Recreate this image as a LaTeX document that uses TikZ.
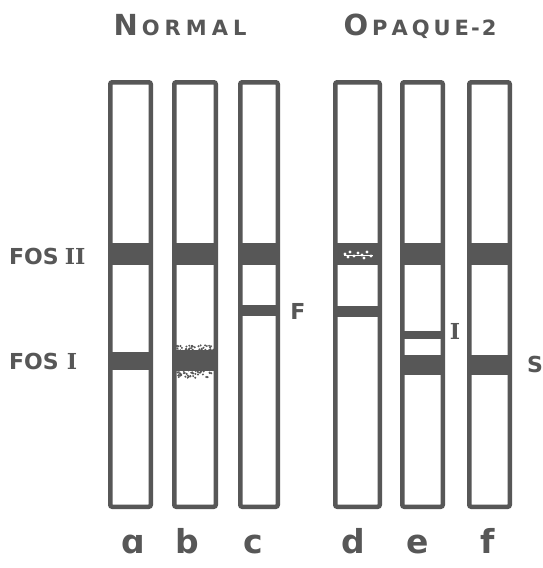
\documentclass[tikz,border=0pt]{standalone}
\usepackage{fontspec}
\setmainfont{DejaVu Sans}
\newfontfamily\lblfont{DejaVu Sans}
\newfontfamily\numfont{DejaVu Serif}
\begin{document}
\begin{tikzpicture}[x=1pt,y=-1pt,
  ink/.style={draw=inkc,line width=4.5pt,rounded corners=2pt},
  band/.style={fill=inkc},
  lbl/.style={text=inkc,font=\lblfont\bfseries,inner sep=0pt},
  side/.style={lbl,font=\lblfont\bfseries\fontsize{22}{22}\selectfont},
]
\definecolor{inkc}{HTML}{575757}
\useasboundingbox (0,0) rectangle (543,568);
\fill[white] (0,0) rectangle (543,568);
% titles
\node[lbl,anchor=base] (tn) at (180,35) {\fontsize{29}{29}\selectfont N\fontsize{21}{21}\selectfont\hspace{4pt}O\hspace{5pt}R\hspace{5pt}M\hspace{5pt}A\hspace{5pt}L};
\node[lbl,anchor=base] (to) at (420,35) {\fontsize{29}{29}\selectfont O\fontsize{21}{21}\selectfont\hspace{4pt}P\hspace{4pt}A\hspace{4pt}Q\hspace{4pt}U\hspace{4pt}E\hspace{2pt}-\hspace{2pt}2};
% bands (drawn before tube outlines)
% a
\fill[band] (108,243) rectangle (153,265);
\fill[band] (108,352) rectangle (153,370);
% b
\fill[band] (172,243) rectangle (218,265);
\fill[band] (172,350) rectangle (218,371);
\pgfmathsetseed{7}
\foreach \i in {1,...,45}{
  \pgfmathsetmacro\xx{176+rnd*38}
  \pgfmathsetmacro\yy{345+rnd*6}
  \fill[inkc] (\xx,\yy) circle (1.1);
}
\foreach \i in {1,...,45}{
  \pgfmathsetmacro\xx{176+rnd*38}
  \pgfmathsetmacro\yy{370+rnd*8}
  \fill[inkc] (\xx,\yy) circle (1.1);
}
% c
\fill[band] (238,243) rectangle (280,265);
\fill[band] (238,305) rectangle (280,316);
% d
\fill[band] (333,243) rectangle (382,265);
\fill[band] (333,306) rectangle (382,317);
\foreach \p in {(345,254),(350,252),(354,256),(358,253),(362,255),(367,252),(371,256),(348,257),(364,258)}{
  \fill[white] \p circle (1.6);
}
\draw[white,line width=1pt] (344,255) -- (373,255);
% e
\fill[band] (400,243) rectangle (445,265);
\fill[band] (400,331) rectangle (445,339);
\fill[band] (400,355) rectangle (445,375);
% f
\fill[band] (467,243) rectangle (512,265);
\fill[band] (467,355) rectangle (512,375);
% tubes
\draw[ink] (110.25,82.25) rectangle (150.75,506.75);
\draw[ink] (174.25,82.25) rectangle (215.75,506.75);
\draw[ink] (240.25,82.25) rectangle (277.75,506.75);
\draw[ink] (335.25,82.25) rectangle (379.75,506.75);
\draw[ink] (402.25,82.25) rectangle (442.75,506.75);
\draw[ink] (469.25,82.25) rectangle (509.75,506.75);
% side labels
\node[side,anchor=west] (f2) at (9,256) {FOS\hspace{6pt}{\numfont\bfseries II}};
\node[side,anchor=west] (f1) at (9,361) {FOS\hspace{8pt}{\numfont\bfseries I}};
\node[side] (lf) at (298,311) {F};
\node[side] (li) at (455,331) {\numfont\bfseries I};
\node[side] (ls) at (535,364) {S};
% bottom letters
\foreach \n/\x/\t in {la/133/ɑ,lb/187/b,lc/253/c,ld/353/d,le/418/e,lf2/488/f}{
  \node[lbl,anchor=base,font=\lblfont\bfseries\fontsize{33}{33}\selectfont] (\n) at (\x,553) {\t};
}
\end{tikzpicture}
\end{document}
